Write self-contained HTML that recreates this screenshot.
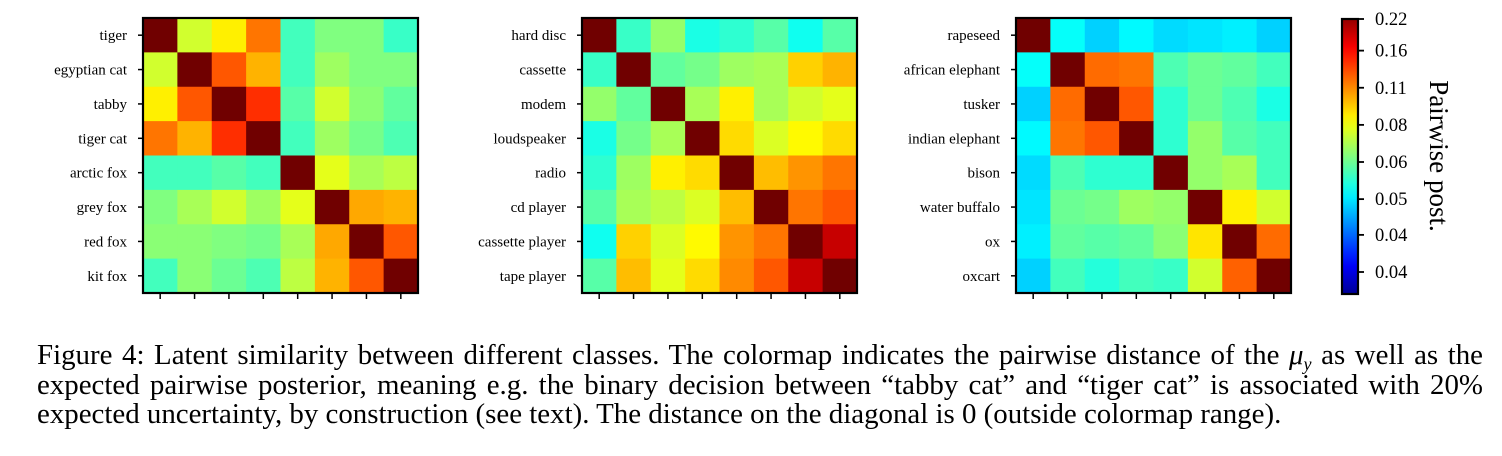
<!DOCTYPE html>
<html><head><meta charset="utf-8"><style>
body{margin:0;width:1502px;height:456px;background:#fff;overflow:hidden;position:relative;font-family:"Liberation Serif",serif}
#cap{position:absolute;left:37px;top:341px;width:1446px;font-size:28.9px;line-height:29.7px;color:#000;text-align:justify}
.l{display:block;text-align-last:justify;white-space:nowrap;height:29.7px}
.last{text-align-last:left}
.sub{font-size:18px;position:relative;top:6px;line-height:0}
</style></head><body>
<svg id="fig" width="1502" height="320" style="position:absolute;left:0;top:0"></svg>
<div id="cap">
<span class="l">Figure 4: Latent similarity between different classes. The colormap indicates the pairwise distance of the <i>μ<span class="sub">y</span></i> as well as the</span>
<span class="l">expected pairwise posterior, meaning e.g. the binary decision between “tabby cat” and “tiger cat” is associated with 20%</span>
<span class="l last">expected uncertainty, by construction (see text). The distance on the diagonal is 0 (outside colormap range).</span>
</div>
<script>
const labels1=["tiger","egyptian cat","tabby","tiger cat","arctic fox","grey fox","red fox","kit fox"];
const labels2=["hard disc","cassette","modem","loudspeaker","radio","cd player","cassette player","tape player"];
const labels3=["rapeseed","african elephant","tusker","indian elephant","bison","water buffalo","ox","oxcart"];
const D=-1;
const values1=[
[D,.58,.64,.76,.44,.50,.50,.43],
[.58,D,.79,.70,.44,.53,.50,.50],
[.64,.79,D,.83,.46,.58,.51,.47],
[.76,.70,.83,D,.44,.53,.49,.45],
[.44,.44,.46,.44,D,.60,.54,.56],
[.50,.54,.58,.53,.60,D,.71,.70],
[.51,.51,.50,.49,.54,.71,D,.79],
[.44,.51,.48,.45,.56,.70,.79,D]];
const values2=[
[D,.43,.52,.40,.42,.46,.39,.46],
[.43,D,.47,.49,.53,.54,.67,.70],
[.52,.47,D,.54,.64,.54,.58,.60],
[.40,.49,.54,D,.66,.59,.63,.66],
[.42,.53,.64,.66,D,.69,.73,.76],
[.46,.54,.56,.59,.69,D,.76,.79],
[.39,.67,.59,.63,.73,.76,D,.93],
[.46,.69,.60,.66,.74,.79,.93,D]];
const values3=[
[D,.38,.33,.37,.34,.35,.36,.33],
[.38,D,.77,.76,.45,.48,.47,.44],
[.33,.77,D,.79,.42,.48,.45,.40],
[.37,.76,.79,D,.42,.52,.46,.44],
[.34,.45,.42,.42,D,.52,.54,.44],
[.35,.48,.49,.53,.52,D,.64,.58],
[.36,.47,.46,.47,.51,.65,D,.77],
[.33,.44,.41,.44,.43,.58,.78,D]];
const cbTicks=["0.22","0.16","0.11","0.08","0.06","0.05","0.04","0.04"];
const cbTickPos=[1.0,0.885,0.75,0.615,0.48,0.345,0.215,0.08];

const NS="http://www.w3.org/2000/svg";
const svg=document.getElementById('fig');
function mk(t,a,p){const e=document.createElementNS(NS,t);for(const k in a)e.setAttribute(k,a[k]);(p||svg).appendChild(e);return e;}
function jet(t){if(t<0)return "#700000";const c=x=>Math.round(255*Math.max(0,Math.min(1,1.5-Math.abs(4*t-x))));return `rgb(${c(3)},${c(2)},${c(1)})`;}
const panelTop=18,size=275;
function panel(x0,labels,vals,name){
  const g=mk('g',{});
  
  
  const n=labels.length,cw=size/n;
  const sx=i=>x0+i*cw, sy=i=>panelTop+i*cw;
  vals.forEach((row,r)=>row.forEach((v,c)=>{
    const cell=mk('rect',{x:sx(c),y:sy(r),width:cw+0.5,height:cw+0.5,fill:jet(v)},g);
    
    
  }));
  mk('rect',{x:x0,y:panelTop,width:size,height:size,fill:'none',stroke:'#000','stroke-width':2.2},g);
  labels.forEach((l,i)=>{
    const cy=sy(i)+cw/2;
    mk('line',{x1:x0-5,x2:x0,y1:cy,y2:cy,stroke:'#000','stroke-width':1.5},g);
    const t=mk('text',{x:x0-16,y:cy+5,'text-anchor':'end','font-size':'15px','font-family':'"Liberation Serif",serif'},g);
    t.textContent=l;
    
    
    const cx=sx(i)+cw/2;
    mk('line',{x1:cx,x2:cx,y1:panelTop+size,y2:panelTop+size+6,stroke:'#000','stroke-width':1.5},g);
  });
}
panel(143,labels1,values1,'heatmap-cats-foxes');
panel(582,labels2,values2,'heatmap-electronics');
panel(1016,labels3,values3,'heatmap-elephants');
const cb=mk('g',{});


const defs=mk('defs',{},cb);
const lg=mk('linearGradient',{id:'jg',x1:0,y1:1,x2:0,y2:0},defs);
for(let i=0;i<=20;i++){mk('stop',{offset:i/20,'stop-color':jet(0.02+0.96*i/20)},lg);}
const cbx=1342,cby=19,cbw=16,cbh=275;
mk('rect',{x:cbx,y:cby,width:cbw,height:cbh,fill:'url(#jg)',stroke:'#000','stroke-width':2.2},cb);
cbTicks.forEach((s,i)=>{
  const y=cby+cbh*(1-cbTickPos[i]);
  mk('line',{x1:cbx+cbw,x2:cbx+cbw+6,y1:y,y2:y,stroke:'#000','stroke-width':1.8},cb);
  const t=mk('text',{x:cbx+cbw+17,y:y+6,'font-size':'18.5px','font-family':'"Liberation Serif",serif'},cb);
  t.textContent=s;
  
  
});
const ttl=mk('text',{x:0,y:0,transform:'translate(1430,156) rotate(90)','text-anchor':'middle','font-size':'27px','font-family':'"Liberation Serif",serif'},cb);
ttl.textContent='Pairwise post.';


</script>
</body></html>
